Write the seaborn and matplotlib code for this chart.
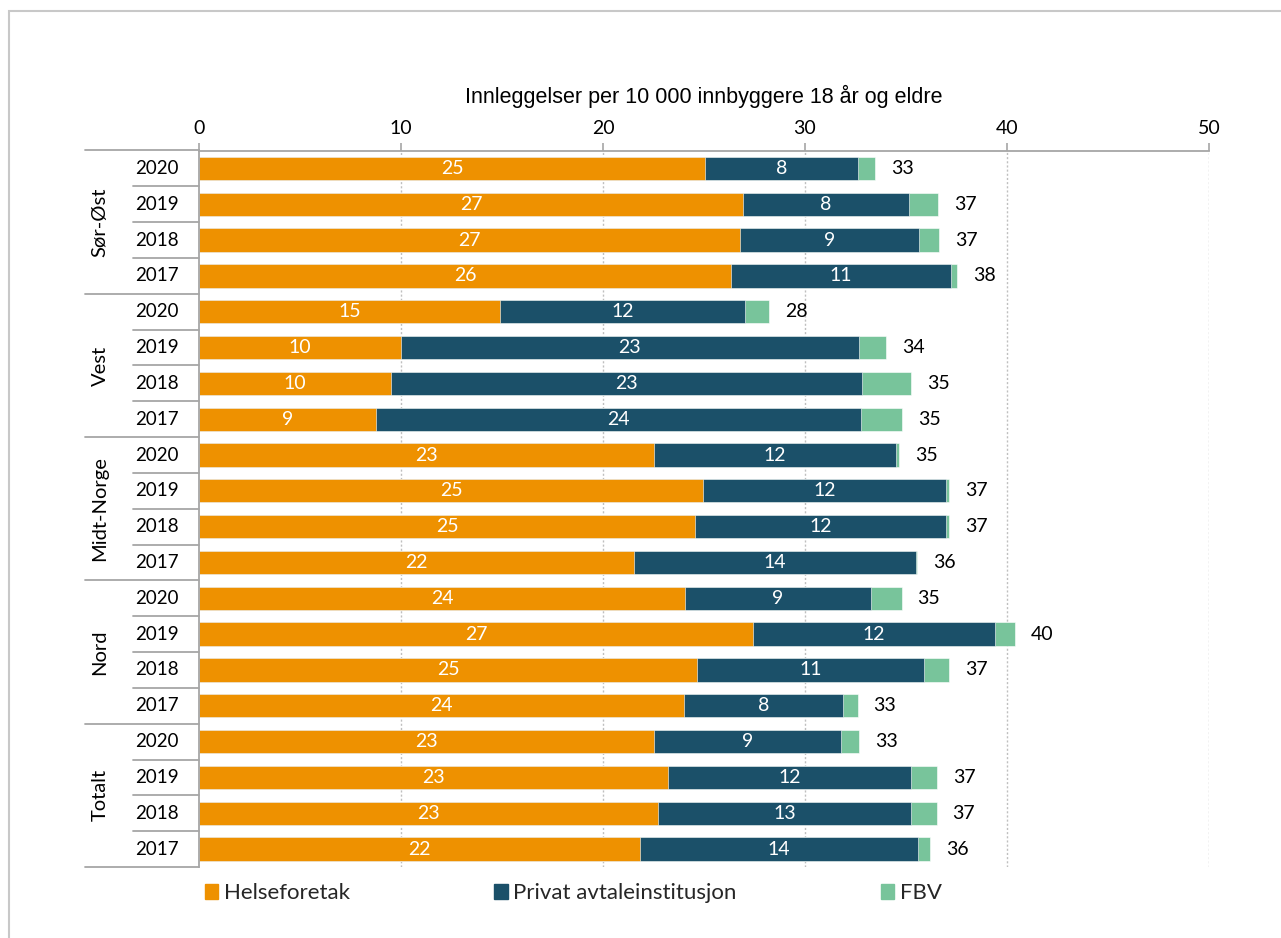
import numpy as np
import pandas as pd
import matplotlib
matplotlib.use("Agg")
import matplotlib.pyplot as plt
import matplotlib.patches as mpatches
from matplotlib.lines import Line2D
import seaborn as sns

# ---------------- data ----------------
regions = ["Sør-Øst", "Vest", "Midt-Norge", "Nord", "Totalt"]
years = ["2020", "2019", "2018", "2017"]
series_names = ["Helseforetak", "Privat avtaleinstitusjon", "FBV"]

helseforetak = [25.05, 26.93, 26.76, 26.35,
                14.90, 10.00, 9.52, 8.76,
                22.54, 24.95, 24.55, 21.53,
                24.06, 27.44, 24.67, 24.00,
                22.52, 23.23, 22.72, 21.85]
privat = [7.57, 8.20, 8.88, 10.88,
          12.13, 22.65, 23.30, 24.00,
          11.96, 12.05, 12.42, 13.97,
          9.21, 11.97, 11.22, 7.89,
          9.26, 12.04, 12.55, 13.74]
fbv = [0.85, 1.47, 1.00, 0.30,
       1.20, 1.35, 2.45, 2.03,
       0.17, 0.12, 0.15, 0.05,
       1.51, 0.99, 1.25, 0.71,
       0.89, 1.25, 1.24, 0.61]

x_ticks = [0, 10, 20, 30, 40, 50]
x_title = "Innleggelser per 10 000 innbyggere 18 år og eldre"

# ---------------- styling ----------------
colors = ["#EE9100", "#1B5069", "#78C49B"]
calibri_like = "Lato"
arial_like = "Liberation Sans"

sns.set_theme(style="white")
plt.rcParams["font.family"] = [calibri_like, "DejaVu Sans"]

W, H = 1281, 938
fig = plt.figure(figsize=(W / 100, H / 100), dpi=100)
ax_left, ax_right, ax_top, ax_bot = 199, 1209, 150.5, 867
ax = fig.add_axes([ax_left / W, 1 - ax_bot / H, (ax_right - ax_left) / W, (ax_bot - ax_top) / H])

rows = [f"{r} {y}" for r in regions for y in years]
df = pd.DataFrame({
    "row": rows,
    "H": helseforetak,
    "P": privat,
    "F": fbv,
})
df["HP"] = df["H"] + df["P"]
df["T"] = df["HP"] + df["F"]

bw = 0.65
for col, c in [("T", colors[2]), ("HP", colors[1]), ("H", colors[0])]:
    sns.barplot(data=df, x=col, y="row", order=rows, orient="h", color=c,
                saturation=1, width=bw, ax=ax, edgecolor="white", linewidth=0.4)

n = len(rows)
ax.set_xlim(0, 50)
ax.set_ylim(n - 0.5, -0.5)

# x axis on top
ax.xaxis.set_ticks_position("top")
ax.xaxis.set_label_position("top")
ax.set_xticks(x_ticks)
ax.set_xticklabels([str(t) for t in x_ticks])
ax.tick_params(axis="x", direction="out", length=6, width=1.2, color="#a6a6a6",
               pad=4, labelsize=14, labelcolor="black")
ax.set_xlabel(x_title, fontsize=15.5, family=arial_like, labelpad=12, color="black")
ax.set_yticks([])
ax.set_ylabel("")

for s in ["right", "bottom"]:
    ax.spines[s].set_visible(False)
for s in ["top", "left"]:
    ax.spines[s].set_color("#a6a6a6")
    ax.spines[s].set_linewidth(1.3)

# dotted gridlines
for t in x_ticks[1:]:
    ax.axvline(t, color="#bfbfbf", linestyle=(0, (1.5, 1.5)), linewidth=1.0, zorder=0)

# data labels
px_per_unit = (ax_right - ax_left) / 50.0
for i, r in df.iterrows():
    ax.text(r["H"] / 2, i, f"{r['H']:.0f}", ha="center", va="center",
            color="white", fontsize=14)
    ax.text(r["H"] + r["P"] / 2, i, f"{r['P']:.0f}", ha="center", va="center",
            color="white", fontsize=14)
    ax.text(r["T"] + 16 / px_per_unit, i, f"{r['T']:.0f}", ha="left", va="center",
            color="black", fontsize=14)

# left category table
def fx(px):
    return (px - ax_left) / (ax_right - ax_left)

trans = ax.get_yaxis_transform()
lc = "#a6a6a6"
for gi, reg in enumerate(regions):
    y0 = gi * 4 - 0.5
    ax.add_line(Line2D([fx(85), 0], [y0, y0], transform=trans, color=lc,
                       linewidth=1.3, clip_on=False))
    for k in range(1, 4):
        yy = y0 + k
        ax.add_line(Line2D([fx(133), 0], [yy, yy], transform=trans, color=lc,
                           linewidth=1.3, clip_on=False))
    ax.text(fx(100), gi * 4 + 1.5, reg, transform=trans, rotation=90,
            ha="center", va="center", fontsize=14.5, color="black")
    for k, yr in enumerate(years):
        ax.text(fx(157), gi * 4 + k, yr, transform=trans, ha="center", va="center",
                fontsize=13.5, color="black")
ax.add_line(Line2D([fx(85), 0], [n - 0.5, n - 0.5], transform=trans, color=lc,
                   linewidth=1.3, clip_on=False))

# legend
handles = [mpatches.Patch(color=c, label=l) for c, l in zip(colors, series_names)]
fig.legend(handles=handles, loc="center left", bbox_to_anchor=(205 / W, 1 - 893 / H),
           ncol=3, frameon=False, fontsize=16, handlelength=0.6, handleheight=0.65,
           handletextpad=0.25, columnspacing=6.5, borderaxespad=0, borderpad=0)

# outer frame
fig.add_artist(mpatches.Rectangle((8.5 / W, -0.05), 1.2, 1 - 11.5 / H + 0.05,
                                  transform=fig.transFigure, fill=False,
                                  edgecolor="#c8c8c8", linewidth=1.5))

fig.savefig("out.png", dpi=100)
